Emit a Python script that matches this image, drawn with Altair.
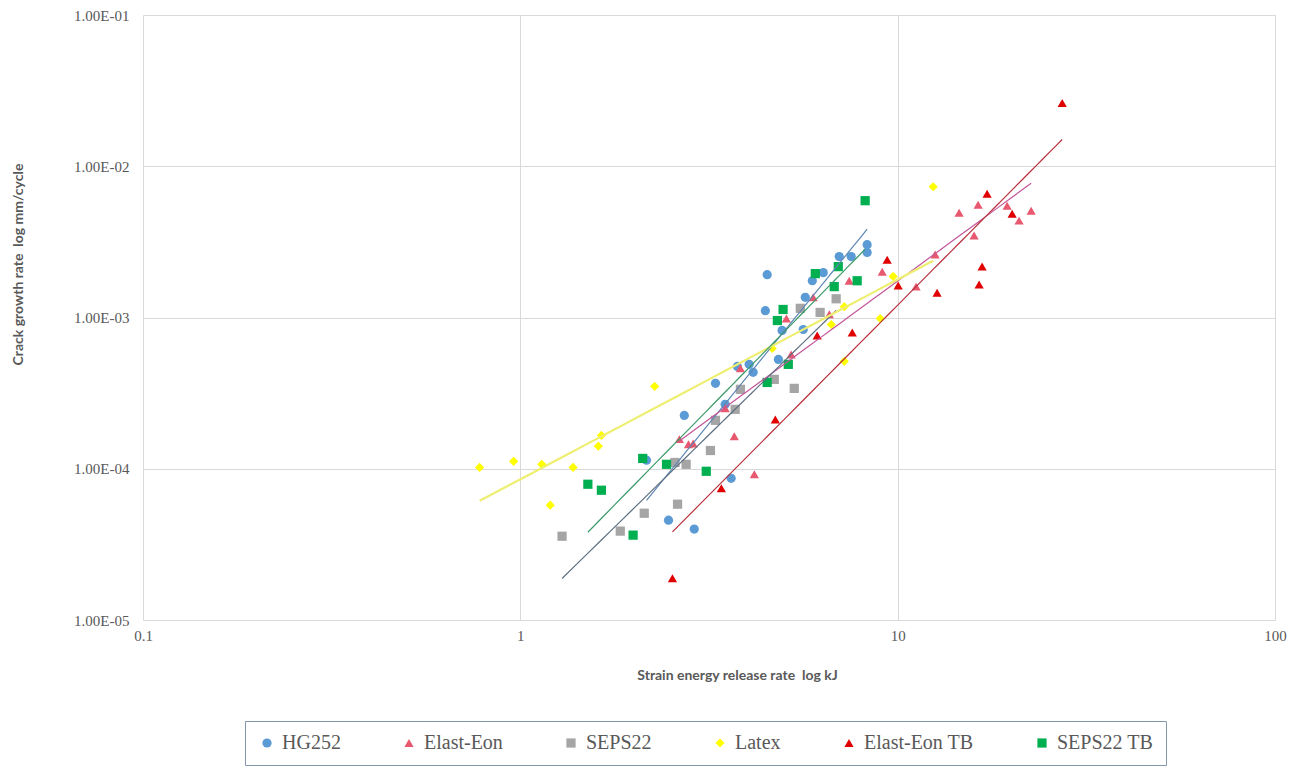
import altair as alt
import pandas as pd

series_names = ["HG252", "Elast-Eon", "SEPS22", "Latex", "Elast-Eon TB", "SEPS22 TB"]

hg252_x = [2.16, 2.47, 2.72, 2.89, 3.29, 3.49, 3.62, 3.76, 4.04, 4.14, 4.51, 4.46, 4.83, 4.94, 5.62, 5.69, 5.94, 6.35, 7.00, 7.53, 8.30, 8.30]
hg252_y = [1.14e-4, 4.57e-5, 2.25e-4, 3.99e-5, 3.67e-4, 2.67e-4, 8.65e-5, 4.75e-4, 4.90e-4, 4.34e-4, 1.92e-3, 1.11e-3, 5.28e-4, 8.21e-4, 8.33e-4, 1.36e-3, 1.75e-3, 1.98e-3, 2.53e-3, 2.53e-3, 3.03e-3, 2.69e-3]

elast_x = [2.64, 2.79, 2.87, 3.49, 3.69, 3.83, 4.17, 5.22, 5.07, 5.97, 6.59, 7.44, 9.10, 11.19, 12.57, 14.55, 15.94, 16.34, 19.50, 20.98, 22.58]
elast_y = [1.57e-4, 1.45e-4, 1.47e-4, 2.51e-4, 1.64e-4, 4.61e-4, 9.2e-5, 5.70e-4, 9.85e-4, 1.36e-3, 1.05e-3, 1.75e-3, 2.01e-3, 1.60e-3, 2.61e-3, 4.93e-3, 3.48e-3, 5.57e-3, 5.49e-3, 4.37e-3, 5.08e-3]

seps_x = [1.29, 1.84, 2.13, 2.61, 2.57, 2.75, 3.19, 3.29, 3.71, 3.83, 4.71, 5.32, 5.52, 6.23, 6.87]
seps_y = [3.58e-5, 3.87e-5, 5.08e-5, 5.83e-5, 1.10e-4, 1.07e-4, 1.32e-4, 2.09e-4, 2.47e-4, 3.35e-4, 3.90e-4, 3.40e-4, 1.15e-3, 1.08e-3, 1.33e-3]

latex_x = [0.78, 0.96, 1.14, 1.38, 1.20, 1.61, 1.64, 2.27, 4.65, 6.67, 7.22, 8.99, 9.73, 12.42, 7.22]
latex_y = [1.02e-4, 1.12e-4, 1.07e-4, 1.02e-4, 5.74e-5, 1.41e-4, 1.66e-4, 3.51e-4, 6.24e-4, 8.99e-4, 1.18e-3, 9.85e-4, 1.87e-3, 7.32e-3, 5.13e-4]

elast_tb_x = [2.53, 3.41, 4.74, 6.12, 7.58, 9.38, 10.03, 12.72, 17.26, 20.11, 16.74, 16.44, 27.29]
elast_tb_y = [1.89e-5, 7.43e-5, 2.12e-4, 7.60e-4, 7.96e-4, 2.41e-3, 1.63e-3, 1.46e-3, 6.58e-3, 4.86e-3, 2.17e-3, 1.65e-3, 2.62e-2]

seps_tb_x = [1.51, 1.64, 1.99, 2.11, 2.44, 3.11, 4.51, 4.80, 4.97, 5.13, 6.05, 6.79, 6.96, 7.81, 8.20]
seps_tb_y = [7.90e-5, 7.21e-5, 3.64e-5, 1.17e-4, 1.07e-4, 9.62e-5, 3.72e-4, 9.55e-4, 1.13e-3, 4.90e-4, 1.95e-3, 1.60e-3, 2.17e-3, 1.75e-3, 5.92e-3]

x_ticks = [0.1, 1, 10, 100]
y_ticks = [1e-5, 1e-4, 1e-3, 1e-2, 1e-1]

marker_colors = ["#5b9bd5", "#e8586f", "#a5a5a5", "#ffff00", "#e00000", "#00b050"]
marker_shapes = ["circle", "triangle-up", "square", "diamond", "triangle-up", "square"]
marker_sizes = [85, 85, 75, 50, 85, 85]
line_colors = ["#5f86b3", "#c3559a", "#5e6e80", "#eeee70", "#b8303c", "#3b9a6a"]

all_x = [hg252_x, elast_x, seps_x, latex_x, elast_tb_x, seps_tb_x]
all_y = [hg252_y, elast_y, seps_y, latex_y, elast_tb_y, seps_tb_y]

rows = []
for name, xs, ys in zip(series_names, all_x, all_y):
    for xv, yv in zip(xs, ys):
        rows.append({"series": name, "x": xv, "y": yv})
df = pd.DataFrame(rows)

grey = "#595959"
serif = "Liberation Serif, Times New Roman, serif"
x_scale = alt.Scale(type="log", domain=[0.1, 100], nice=False)
y_scale = alt.Scale(type="log", domain=[1e-5, 1e-1], nice=False)

legend = alt.Legend(
    orient="none", legendX=102, legendY=706, direction="horizontal", columns=6,
    columnPadding=58, title=None, labelFont=serif, labelFontSize=20,
    labelColor=grey, symbolSize=45, labelOffset=5, padding=12,
    strokeColor="#8496ad", fillColor="white", symbolStrokeWidth=0, gridAlign="each",
)

x_axis = alt.Axis(
    values=x_ticks, format="~g", grid=True, gridColor="#d9d9d9", domain=False, ticks=False,
    labelFont=serif, labelFontSize=15, labelColor=grey, labelPadding=8,
    labelFlush=False,
    title="Strain energy release rate \u00a0log kJ", titleFont="Lato", titleFontWeight="bold",
    titleFontSize=14, titleColor=grey, titleX=594, titleY=55, titleBaseline="middle",
    titleAlign="center",
)
y_axis = alt.Axis(
    values=y_ticks, labelExpr="replace(format(datum.value, '.2e'), 'e-', 'E-0')",
    grid=True, gridColor="#d9d9d9", domain=False, ticks=False,
    labelFont=serif, labelFontSize=15, labelColor=grey, labelPadding=14,
    labelFlush=False,
    title="Crack growth rate \u00a0log mm/cycle", titleFont="Lato", titleFontWeight="bold",
    titleFontSize=14, titleColor=grey, titleX=-125, titleY=249, titleBaseline="middle",
    titleAlign="center", titleAngle=270,
)

base = alt.Chart(df)

points = base.mark_point(filled=True, opacity=1, strokeWidth=0).encode(
    x=alt.X("x:Q", scale=x_scale, axis=x_axis),
    y=alt.Y("y:Q", scale=y_scale, axis=y_axis),
    color=alt.Color("series:N", scale=alt.Scale(domain=series_names, range=marker_colors), legend=legend),
    shape=alt.Shape("series:N", scale=alt.Scale(domain=series_names, range=marker_shapes), legend=legend),
    size=alt.Size("series:N", scale=alt.Scale(domain=series_names, range=marker_sizes), legend=None),
)

lines = base.transform_regression(
    "x", "y", method="pow", groupby=["series"]
).mark_line().encode(
    x=alt.X("x:Q", scale=x_scale),
    y=alt.Y("y:Q", scale=y_scale),
    stroke=alt.Stroke("series:N", scale=alt.Scale(domain=series_names, range=line_colors), legend=None),
    strokeWidth=alt.condition("datum.series == 'Latex'", alt.value(2.2), alt.value(1.2)),
)

chart = alt.layer(points, lines).properties(
    width=1132, height=605,
    autosize=alt.AutoSizeParams(type="none"),
    padding={"left": 135, "top": 7, "right": 15, "bottom": 155},
    background="white",
).configure(
    font=serif,
).configure_view(stroke=None).configure_legend(
    labelFont=serif, labelFontSize=20, labelColor=grey,
)

chart.save("out.html", embed_options={"renderer": "svg", "actions": False})
